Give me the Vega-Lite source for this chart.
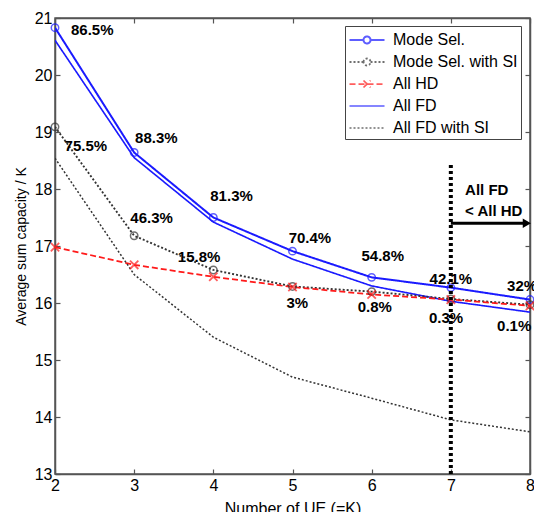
{
  "$schema": "https://vega.github.io/schema/vega-lite/v6.json",
  "width": 475,
  "height": 456,
  "autosize": "none",
  "padding": {"left": 55, "top": 18, "right": 4, "bottom": 38},
  "background": "white",
  "config": {
    "font": "Liberation Sans",
    "view": {"stroke": "#555", "strokeWidth": 1.5},
    "axis": {
      "grid": false,
      "domainColor": "#555",
      "domainWidth": 1.5,
      "tickColor": "#555",
      "tickSize": -5,
      "tickWidth": 1.2,
      "labelFont": "Liberation Sans",
      "labelFontSize": 16,
      "labelColor": "black",
      "titleFont": "Liberation Sans",
      "titleFontWeight": "normal",
      "titleColor": "black"
    },
    "legend": {
      "labelFont": "Liberation Sans",
      "labelFontSize": 16,
      "labelColor": "black",
      "symbolSize": 400,
      "symbolOffset": 8,
      "symbolStrokeWidth": 1.6,
      "strokeColor": "#444",
      "fillColor": "white",
      "padding": 3,
      "rowPadding": 3,
      "labelOffset": 15,
      "cornerRadius": 0,
      "title": null,
      "orient": "none",
      "legendX": 290,
      "legendY": 8
    }
  },
  "datasets": {
    "series": [
      {"s": "Mode Sel.", "K": 2, "v": 20.83},
      {"s": "Mode Sel.", "K": 3, "v": 18.64},
      {"s": "Mode Sel.", "K": 4, "v": 17.5},
      {"s": "Mode Sel.", "K": 5, "v": 16.91},
      {"s": "Mode Sel.", "K": 6, "v": 16.45},
      {"s": "Mode Sel.", "K": 7, "v": 16.27},
      {"s": "Mode Sel.", "K": 8, "v": 16.06},
      {"s": "All FD", "K": 2, "v": 20.61},
      {"s": "All FD", "K": 3, "v": 18.55},
      {"s": "All FD", "K": 4, "v": 17.42},
      {"s": "All FD", "K": 5, "v": 16.77},
      {"s": "All FD", "K": 6, "v": 16.3},
      {"s": "All FD", "K": 7, "v": 16.03},
      {"s": "All FD", "K": 8, "v": 15.84},
      {"s": "Mode Sel. with SI", "K": 2, "v": 19.09},
      {"s": "Mode Sel. with SI", "K": 3, "v": 17.18},
      {"s": "Mode Sel. with SI", "K": 4, "v": 16.58},
      {"s": "Mode Sel. with SI", "K": 5, "v": 16.29},
      {"s": "Mode Sel. with SI", "K": 6, "v": 16.2},
      {"s": "Mode Sel. with SI", "K": 7, "v": 16.07},
      {"s": "Mode Sel. with SI", "K": 8, "v": 15.97},
      {"s": "All HD", "K": 2, "v": 16.98},
      {"s": "All HD", "K": 3, "v": 16.67},
      {"s": "All HD", "K": 4, "v": 16.46},
      {"s": "All HD", "K": 5, "v": 16.28},
      {"s": "All HD", "K": 6, "v": 16.15},
      {"s": "All HD", "K": 7, "v": 16.06},
      {"s": "All HD", "K": 8, "v": 15.95},
      {"s": "All FD with SI", "K": 2, "v": 18.54},
      {"s": "All FD with SI", "K": 3, "v": 16.5},
      {"s": "All FD with SI", "K": 4, "v": 15.4},
      {"s": "All FD with SI", "K": 5, "v": 14.7},
      {"s": "All FD with SI", "K": 6, "v": 14.33},
      {"s": "All FD with SI", "K": 7, "v": 13.95},
      {"s": "All FD with SI", "K": 8, "v": 13.74}
    ],
    "labels": [
      {"K": 2.47, "v": 20.79, "t": "86.5%"},
      {"K": 3.28, "v": 18.9, "t": "88.3%"},
      {"K": 4.23, "v": 17.88, "t": "81.3%"},
      {"K": 5.22, "v": 17.14, "t": "70.4%"},
      {"K": 6.14, "v": 16.82, "t": "54.8%"},
      {"K": 7.0, "v": 16.42, "t": "42.1%"},
      {"K": 7.9, "v": 16.3, "t": "32%"},
      {"K": 2.39, "v": 18.75, "t": "75.5%"},
      {"K": 3.22, "v": 17.5, "t": "46.3%"},
      {"K": 3.82, "v": 16.8, "t": "15.8%"},
      {"K": 5.06, "v": 16.0, "t": "3%"},
      {"K": 6.04, "v": 15.93, "t": "0.8%"},
      {"K": 6.94, "v": 15.74, "t": "0.3%"},
      {"K": 7.8, "v": 15.6, "t": "0.1%"}
    ],
    "note": [
      {"K": 7.18, "v": 17.98, "t": "All FD"},
      {"K": 7.18, "v": 17.62, "t": "< All HD"}
    ],
    "vline": [{"K": 7, "v": 13, "v2": 18.46}],
    "arrow": [{"K": 7, "K2": 7.93, "v": 17.4}],
    "head": [{"K": 7.96, "v": 17.4}]
  },
  "layer": [
    {
      "encoding": {
        "x": {"field": "K", "type": "quantitative", "scale": {"domain": [2, 8], "nice": false, "zero": false},
              "axis": {"values": [2, 3, 4, 5, 6, 7, 8], "title": "Number of UE (=K)", "titleFontSize": 16, "labelPadding": 8, "titlePadding": 7, "labelFlush": false}},
        "y": {"field": "v", "type": "quantitative", "scale": {"domain": [13, 21], "nice": false, "zero": false},
              "axis": {"values": [13, 14, 15, 16, 17, 18, 19, 20, 21], "title": "Average sum capacity / K", "titleFontSize": 14, "labelPadding": 8, "titlePadding": 6, "labelFlush": false}}
      },
      "layer": [
        {
          "data": {"name": "series"},
          "mark": {"type": "line", "clip": true},
          "encoding": {
            "detail": {"field": "s"},
            "color": {"field": "s", "type": "nominal",
                      "scale": {"domain": ["Mode Sel.", "Mode Sel. with SI", "All HD", "All FD", "All FD with SI"],
                                "range": ["#1a1aff", "#333333", "#ff1a1a", "#1a1aff", "#333333"]}},
            "strokeDash": {"field": "s", "type": "nominal",
                           "scale": {"domain": ["Mode Sel.", "Mode Sel. with SI", "All HD", "All FD", "All FD with SI"],
                                     "range": [[1, 0], [2, 2], [6, 3], [1, 0], [2, 2]]}},
            "strokeWidth": {"field": "s", "type": "nominal",
                            "scale": {"domain": ["Mode Sel.", "Mode Sel. with SI", "All HD", "All FD", "All FD with SI"],
                                      "range": [2, 1.5, 1.6, 2, 1.5]}},
            "order": {"field": "K"}
          }
        },
        {
          "data": {"name": "series"},
          "transform": [{"filter": {"field": "s", "oneOf": ["Mode Sel.", "Mode Sel. with SI"]}}],
          "mark": {"type": "point", "shape": "circle", "filled": false, "size": 55, "strokeWidth": 1.5, "clip": false},
          "encoding": {
            "color": {"field": "s", "type": "nominal"}
          }
        },
        {
          "data": {"name": "series"},
          "transform": [{"filter": {"field": "s", "equal": "All HD"}}],
          "mark": {"type": "point", "shape": "M-1,-1L1,1M-1,1L1,-1", "filled": false, "size": 70, "strokeWidth": 1.8, "clip": false},
          "encoding": {
            "color": {"field": "s", "type": "nominal"}
          }
        },
        {
          "data": {"name": "series"},
          "transform": [{"filter": "datum.K < 0"}],
          "mark": {"type": "point", "filled": false},
          "encoding": {
            "color": {"field": "s", "type": "nominal"},
            "shape": {"field": "s", "type": "nominal",
                      "scale": {"domain": ["Mode Sel.", "Mode Sel. with SI", "All HD", "All FD", "All FD with SI"],
                                "range": [
                                  "M-1.75,0H-0.35M0.35,0H1.75M-0.35,0A0.35,0.35 0 1 1 0.35,0A0.35,0.35 0 1 1 -0.35,0",
                                  "M-1.75,0H-0.35M0.35,0H1.75M-0.35,0A0.35,0.35 0 1 1 0.35,0A0.35,0.35 0 1 1 -0.35,0",
                                  "M-1.75,0H1.75M-0.35,-0.35L0.35,0.35M-0.35,0.35L0.35,-0.35",
                                  "M-1.75,0H1.75",
                                  "M-1.75,0H1.75"
                                ]}}
          }
        },
        {
          "data": {"name": "vline"},
          "mark": {"type": "rule", "color": "black", "strokeWidth": 4, "strokeDash": [3, 3]},
          "encoding": {"y2": {"field": "v2"}}
        },
        {
          "data": {"name": "arrow"},
          "mark": {"type": "rule", "color": "black", "strokeWidth": 3},
          "encoding": {"x2": {"field": "K2"}}
        },
        {
          "data": {"name": "head"},
          "mark": {"type": "point", "shape": "triangle-right", "filled": true, "color": "black", "size": 90, "opacity": 1, "clip": false},
          "encoding": {}
        },
        {
          "data": {"name": "labels"},
          "mark": {"type": "text", "fontWeight": "bold", "fontSize": 15, "align": "center", "baseline": "middle", "color": "black"},
          "encoding": {"text": {"field": "t"}}
        },
        {
          "data": {"name": "note"},
          "mark": {"type": "text", "fontWeight": "bold", "fontSize": 15, "align": "left", "baseline": "middle", "color": "black"},
          "encoding": {"text": {"field": "t"}}
        }
      ]
    },
    {
      "data": {"name": "head"},
      "mark": {"type": "point", "opacity": 0},
      "encoding": {
        "x": {"field": "K", "type": "quantitative", "scale": {"domain": [2, 8], "nice": false, "zero": false},
              "axis": {"orient": "top", "values": [2, 3, 4, 5, 6, 7, 8], "labels": false, "title": null}},
        "y": {"field": "v", "type": "quantitative", "scale": {"domain": [13, 21], "nice": false, "zero": false},
              "axis": {"orient": "right", "values": [13, 14, 15, 16, 17, 18, 19, 20, 21], "labels": false, "title": null}}
      }
    }
  ],
  "resolve": {"axis": {"x": "independent", "y": "independent"}}
}
